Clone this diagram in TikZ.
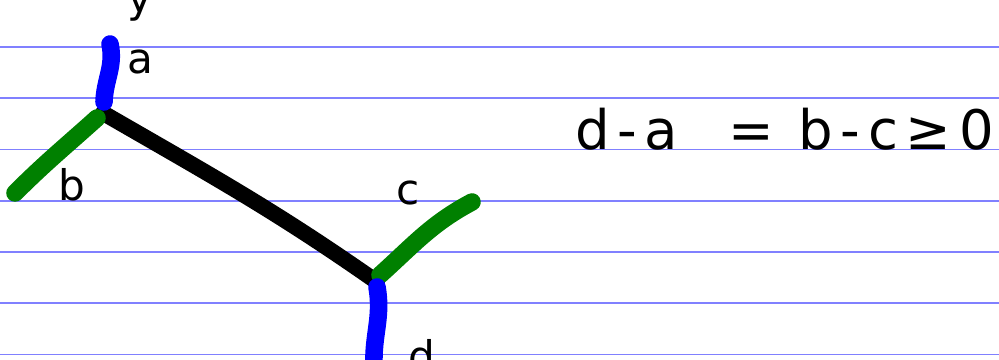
\documentclass[tikz,border=0pt]{standalone}
\usepackage{fontspec}
\setmainfont{DejaVu Sans}
\newfontfamily\eqfont[LetterSpace=14]{DejaVu Sans}
\begin{document}
\begin{tikzpicture}[
  rule/.style={draw=blue!50!white, line width=1.1pt},
  stroke/.style={line width=10pt, line cap=round},
  lbl/.style={font=\fontsize{24}{24}\selectfont, inner sep=0pt},
  eqn/.style={font=\eqfont\fontsize{31}{31}\selectfont, inner sep=0pt}
]
\useasboundingbox (0,0) rectangle (19.98,7.2);

% ===================== ruled paper =====================
\foreach \y in {6.26,5.235,4.21,3.185,2.16,1.135,0.11}
  \draw[rule] (0,\y) -- (19.98,\y);

% ===================== tree =====================
% Coordinates
\coordinate (ea) at (2.20,6.32);   % top of a
\coordinate (ja) at (2.08,5.16);   % bottom of a
\coordinate (jb) at (1.94,4.84);   % top of b
\coordinate (eb) at (0.30,3.34);   % end of b
\coordinate (j1) at (2.06,4.94);   % upper junction
\coordinate (j2) at (7.54,1.56);   % lower junction
\coordinate (jc) at (7.60,1.70);   % start of c
\coordinate (ec) at (9.44,3.16);   % end of c
\coordinate (jd) at (7.54,1.46);   % top of d
\coordinate (ed) at (7.48,-0.10);  % end of d

% Edges
\draw[stroke, black, line width=9pt] (j1) to[out=-30,in=145] (j2);
\draw[stroke, blue] (ja) to[out=88,in=-78] (ea);
\draw[stroke, green!50!black] (jb) to[out=-138,in=45] (eb);
\draw[stroke, green!50!black] (jc) to[out=42,in=-152] (ec);
\draw[stroke, blue] (jd) to[out=-80,in=92] (ed);

% Labels
\node[lbl] (la) at (2.80,5.96) {a};
\node[lbl] (lb) at (1.44,3.50) {b};
\node[lbl] (lc) at (8.16,3.34) {c};
\node[lbl] (ld) at (8.44,0.08) {d};
\node[lbl] (ly) at (2.80,7.10) {y};

% Equation
\node[eqn, anchor=base west] (eq) at (11.50,4.21) {d-a \ = b-c≥0};
\end{tikzpicture}
\end{document}
